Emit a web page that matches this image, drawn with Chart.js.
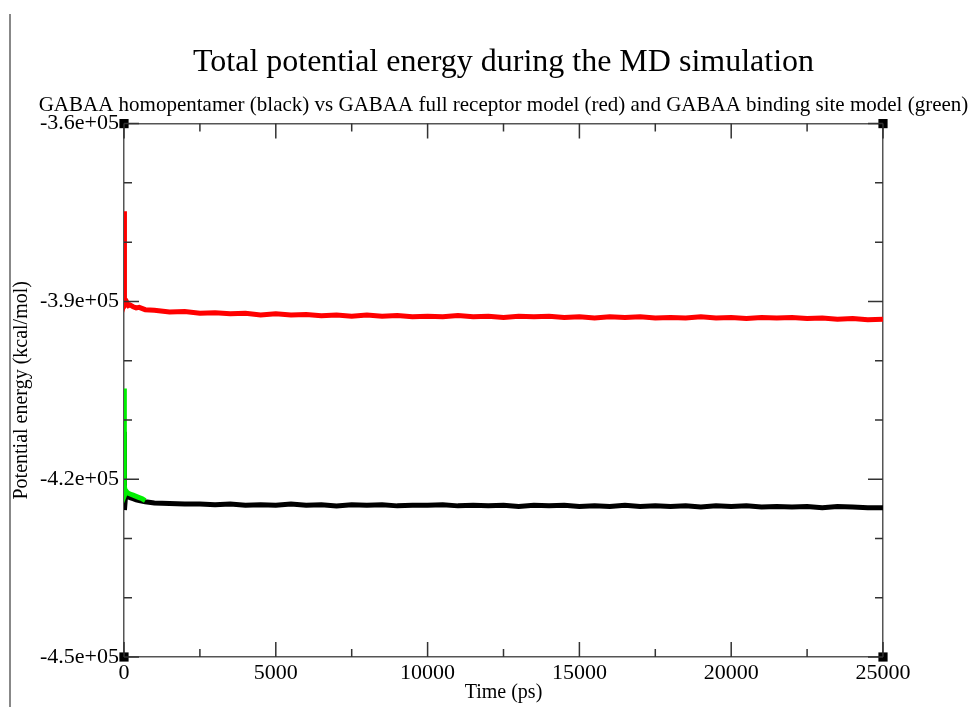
<!DOCTYPE html>
<html>
<head>
<meta charset="utf-8">
<script src="https://cdn.jsdelivr.net/npm/chart.js@4.4.1/dist/chart.umd.min.js"></script>
<style>
  body { margin: 0; background: #fff; }
  #wrap { position: relative; width: 979px; height: 707px; }
  #edge { position: absolute; left: 9px; top: 14px; width: 1.5px; height: 693px; background: #888; }
  #chart { position: absolute; left: 0; top: 0; }
</style>
</head>
<body>
<div id="wrap">
  <div id="edge"></div>
  <canvas id="chart" width="979" height="707"></canvas>
</div>
<script>
// time axis (ps) shared by the homopentamer and full receptor runs
const timePs = [0, 10, 20, 40, 70, 100, 150, 200, 300, 400, 500, 700, 1000, 1500, 2000,
  2500, 3000, 3500, 4000, 4500, 5000, 5500, 6000, 6500, 7000, 7500, 8000, 8500, 9000, 9500,
  10000, 10500, 11000, 11500, 12000, 12500, 13000, 13500, 14000, 14500, 15000, 15500, 16000,
  16500, 17000, 17500, 18000, 18500, 19000, 19500, 20000, 20500, 21000, 21500, 22000, 22500,
  23000, 23500, 24000, 24500, 25000];

// full receptor model (red), kcal/mol
const fullReceptor = [-374800, -381500, -390300, -389900, -390400, -390200, -390700, -390600,
  -390900, -391100, -391000, -391400, -391500, -391800, -391700,
  -392000, -391900, -392100, -392000, -392300, -392100, -392300, -392200, -392400, -392300,
  -392500, -392300, -392500, -392400, -392600, -392500, -392600, -392400, -392600, -392500,
  -392700, -392500, -392600, -392500, -392700, -392600, -392800, -392600, -392700, -392600,
  -392800, -392700, -392800, -392600, -392800, -392700, -392900, -392700, -392800, -392700,
  -392900, -392800, -393000, -392900, -393100, -393000];

// homopentamer (black), kcal/mol
const homopentamer = [-412000, -419000, -425200, -423500, -422600, -422800, -423000, -423100,
  -423300, -423500, -423600, -423800, -424000, -424100, -424200,
  -424200, -424300, -424200, -424400, -424300, -424400, -424200, -424400, -424300, -424500,
  -424300, -424400, -424300, -424500, -424400, -424400, -424300, -424500, -424400, -424500,
  -424400, -424600, -424400, -424500, -424400, -424600, -424500, -424600, -424400, -424600,
  -424500, -424600, -424500, -424700, -424500, -424600, -424500, -424700, -424600, -424700,
  -424600, -424800, -424600, -424700, -424800, -424800];

// binding site model (green), short early part visible above the black trace
const bindingTime = [0, 5, 10, 20, 40, 70, 100, 150, 200, 300, 400, 500, 600, 700];
const bindingSite = [-404700, -409000, -414000, -421000, -422400, -422000, -422200, -422400,
  -422500, -422700, -422900, -423100, -423300, -423600];

// axis ticks
const xMajor = [0, 5000, 10000, 15000, 20000, 25000];
const xMinor = [2500, 7500, 12500, 17500, 22500];
const yMajor = [-450000, -420000, -390000, -360000];
const yMajorLabels = ['-4.5e+05', '-4.2e+05', '-3.9e+05', '-3.6e+05'];
const yMinor = [-440000, -430000, -410000, -400000, -380000, -370000];

const FONT = 'Liberation Serif';

const toPoints = (xs, ys) => xs.map((x, i) => ({ x: x, y: ys[i] }));

// inward major/minor ticks on all four sides, like the original xmgrace frame
const frameTicks = {
  id: 'frameTicks',
  afterDatasetsDraw(chart) {
    const { ctx, chartArea: a, scales: { x, y } } = chart;
    ctx.save();
    ctx.strokeStyle = '#333';
    ctx.lineWidth = 1.5;
    ctx.beginPath();
    const xt = (vals, len) => vals.forEach((v) => {
      const px = x.getPixelForValue(v);
      ctx.moveTo(px, a.bottom); ctx.lineTo(px, a.bottom - len);
      ctx.moveTo(px, a.top); ctx.lineTo(px, a.top + len);
    });
    const yt = (vals, len) => vals.forEach((v) => {
      const py = y.getPixelForValue(v);
      ctx.moveTo(a.left, py); ctx.lineTo(a.left + len, py);
      ctx.moveTo(a.right, py); ctx.lineTo(a.right - len, py);
    });
    xt(xMajor, 15); xt(xMinor, 8);
    yt(yMajor, 15); yt(yMinor, 8);
    ctx.stroke();
    ctx.restore();
  }
};

const frameBorder = { display: true, color: '#555', width: 1.5 };
const noGrid = { display: true, drawOnChartArea: false, drawTicks: false };

new Chart(document.getElementById('chart'), {
  type: 'line',
  data: {
    datasets: [
      {
        label: 'GABAA binding site model',
        data: toPoints(bindingTime, bindingSite),
        borderColor: '#00ee00',
        borderWidth: 5,
        pointRadius: 0
      },
      {
        label: 'GABAA homopentamer',
        data: toPoints(timePs, homopentamer),
        borderColor: '#000000',
        borderWidth: 5,
        pointRadius: 0
      },
      {
        label: 'GABAA full receptor model',
        data: toPoints(timePs, fullReceptor),
        borderColor: '#ff0000',
        borderWidth: 5,
        pointRadius: 0
      },
      {
        // corner markers of the frame
        label: 'corners',
        data: [{ x: 0, y: -360000 }, { x: 25000, y: -360000 }, { x: 0, y: -450000 }, { x: 25000, y: -450000 }],
        showLine: false,
        pointStyle: 'rect',
        pointRadius: 6.5,
        pointBackgroundColor: '#000',
        pointBorderWidth: 0,
        clip: false
      }
    ]
  },
  options: {
    responsive: false,
    animation: false,
    devicePixelRatio: 1,
    layout: { padding: { left: 28, right: 0, top: 0, bottom: 0 } },
    plugins: {
      legend: { display: false },
      tooltip: { enabled: false },
      title: {
        display: true,
        text: 'Total potential energy during the MD simulation',
        color: '#000',
        font: { family: FONT, size: 32, weight: 'normal' },
        padding: { top: 43, bottom: 11 }
      },
      subtitle: {
        display: true,
        text: 'GABAA homopentamer (black) vs GABAA full receptor model (red) and GABAA binding site model (green)',
        color: '#000',
        font: { family: FONT, size: 21, weight: 'normal' },
        padding: { top: 0, bottom: 6 }
      }
    },
    scales: {
      x: {
        type: 'linear',
        position: 'bottom',
        min: 0,
        max: 25000,
        grid: noGrid,
        border: frameBorder,
        ticks: {
          stepSize: 5000,
          padding: 3,
          color: '#000',
          font: { family: FONT, size: 22 },
          maxRotation: 0,
          callback: (v) => String(v)
        },
        title: {
          display: true,
          text: 'Time (ps)',
          color: '#000',
          font: { family: FONT, size: 20 },
          padding: { top: 0, bottom: 2 }
        },
        afterFit: (s) => { s.height = 50; }
      },
      x2: {
        type: 'linear',
        position: 'top',
        min: 0,
        max: 25000,
        grid: noGrid,
        border: frameBorder,
        ticks: { display: false },
        afterFit: (s) => { s.height = 0; }
      },
      y: {
        type: 'linear',
        position: 'left',
        min: -450000,
        max: -360000,
        grid: noGrid,
        border: frameBorder,
        ticks: {
          stepSize: 30000,
          padding: 5,
          color: '#000',
          font: { family: FONT, size: 22 },
          callback: (v) => {
            const i = yMajor.indexOf(v);
            return i >= 0 ? yMajorLabels[i] : '';
          }
        },
        title: {
          display: true,
          text: 'Potential energy (kcal/mol)',
          color: '#000',
          font: { family: FONT, size: 20 },
          padding: { top: -18, bottom: 0 }
        },
        afterFit: (s) => { s.width = 96; }
      },
      y2: {
        type: 'linear',
        position: 'right',
        min: -450000,
        max: -360000,
        grid: noGrid,
        border: frameBorder,
        ticks: { display: false },
        afterFit: (s) => { s.width = 96; }
      }
    }
  },
  plugins: [frameTicks]
});
</script>
</body>
</html>
